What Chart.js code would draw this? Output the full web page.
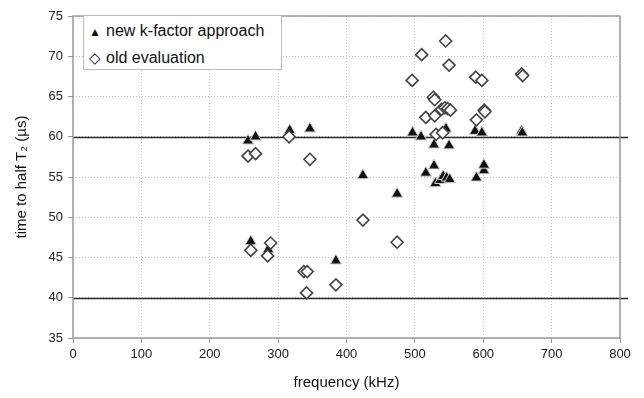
<!DOCTYPE html>
<html>
<head>
<meta charset="utf-8">
<script src="https://cdn.jsdelivr.net/npm/chart.js@4/dist/chart.umd.min.js"></script>
<style>
  html, body { margin: 0; padding: 0; background: #fff; }
  #wrap { position: relative; width: 644px; height: 398px; }
  #legend {
    position: absolute; left: 83px; top: 15px; width: 199px; height: 55px;
    border: 1px solid #bbb; background: #fff; box-sizing: border-box;
    font-family: 'Liberation Sans', Arial, sans-serif; font-size: 16px; color: #111;
  }
  .legend__row { position: absolute; left: 0; height: 20px; line-height: 20px; white-space: nowrap; }
  .legend__mark { display: inline-block; width: 22px; text-align: center; }
  .legend__mark--tri { font-size: 12px; }
  .legend__mark--dia { font-size: 15px; }
</style>
</head>
<body>
<div id="wrap">
  <canvas id="chart" width="644" height="398"></canvas>
  <div id="legend">
    <div class="legend__row" style="top:5px"><span class="legend__mark legend__mark--tri">▲</span>new k-factor approach</div>
    <div class="legend__row" style="top:32px"><span class="legend__mark legend__mark--dia">◇</span>old evaluation</div>
  </div>
</div>
<script>
'use strict';

// new k-factor approach (filled triangles)
var NEW_FREQ = [256, 267, 317, 346.5, 424, 474, 260, 285.5, 384.5, 496.6, 509, 516, 528, 528, 530,
  537, 541.5, 545.5, 546.5, 550, 551, 588, 590, 598, 601, 601, 656, 657];
var NEW_TIME = [59.5, 60.0, 60.8, 61.0, 55.2, 52.9, 47.0, 46.0, 44.6, 60.5, 60.0, 55.5, 59.0, 56.4, 54.2,
  54.6, 55.1, 61.0, 54.9, 58.9, 54.7, 60.7, 54.9, 60.5, 55.8, 56.5, 60.7, 60.5];

// old evaluation (open diamonds)
var OLD_FREQ = [256, 267, 316, 346.5, 424, 474, 260, 289, 284.6, 337.7, 342.5, 341.6, 384.5,
  496, 510, 545, 550, 589, 598, 656, 657.7, 527, 529, 539, 544, 548, 552, 516, 529, 590,
  601.5, 602.5, 531, 540.6];
var OLD_TIME = [57.6, 57.9, 60.0, 57.2, 49.65, 46.9, 45.9, 46.8, 45.2, 43.25, 43.25, 40.6, 41.6,
  67.0, 70.2, 71.9, 68.9, 67.4, 67.0, 67.8, 67.6, 64.9, 64.6, 63.4, 63.6, 63.5, 63.3, 62.4, 62.6, 62.1,
  63.3, 63.1, 60.3, 60.5];

var X_RANGE = [0, 800, 100];
var Y_RANGE = [35, 75, 5];
var REF_LINES = [40, 60];

function toPoints(xs, ys) {
  return xs.map(function (x, i) { return { x: x, y: ys[i] }; });
}

var FONT = "'Liberation Sans', Arial, sans-serif";

// solid reference lines at 40 and 60, plus grey plot frame
var framePlugin = {
  id: 'frame',
  beforeDatasetsDraw: function (chart) {
    var ctx = chart.ctx, a = chart.chartArea, y = chart.scales.y;
    ctx.save();
    ctx.strokeStyle = '#2a2a2a';
    ctx.lineWidth = 1.6;
    REF_LINES.forEach(function (v) {
      var py = Math.round(y.getPixelForValue(v)) + 0.5;
      ctx.beginPath();
      ctx.moveTo(a.left, py);
      ctx.lineTo(a.right + 8, py);
      ctx.stroke();
    });
    ctx.restore();
  },
  afterDraw: function (chart) {
    var ctx = chart.ctx, a = chart.chartArea;
    ctx.save();
    ctx.strokeStyle = '#9a9a9a';
    ctx.lineWidth = 1.5;
    ctx.strokeRect(a.left, a.top, a.right - a.left, a.bottom - a.top);
    ctx.restore();
  }
};

new Chart(document.getElementById('chart'), {
  type: 'scatter',
  data: {
    datasets: [
      {
        label: 'new k-factor approach',
        data: toPoints(NEW_FREQ, NEW_TIME),
        pointStyle: 'triangle',
        pointRadius: 6.5,
        backgroundColor: '#111',
        borderColor: '#cfcfcf',
        borderWidth: 1,
        order: 1
      },
      {
        label: 'old evaluation',
        data: toPoints(OLD_FREQ, OLD_TIME),
        pointStyle: 'rectRot',
        pointRadius: 6,
        backgroundColor: '#fff',
        borderColor: '#444',
        borderWidth: 1.6,
        order: 0
      }
    ]
  },
  options: {
    responsive: false,
    animation: false,
    layout: { padding: { top: 16, right: 24, left: 0, bottom: 0 } },
    plugins: { legend: { display: false }, tooltip: { enabled: false } },
    scales: {
      x: {
        type: 'linear',
        min: X_RANGE[0], max: X_RANGE[1],
        afterFit: function (s) { s.height = 60; },
        ticks: { stepSize: X_RANGE[2], color: '#222', padding: 4, font: { family: FONT, size: 13 } },
        grid: { color: '#c0c0c0', tickLength: 5, tickColor: '#999' },
        border: { display: false, dash: [1, 2] },
        title: { display: true, text: 'frequency (kHz)', color: '#111', padding: { top: 4, bottom: 6 }, font: { family: FONT, size: 15 } }
      },
      y: {
        type: 'linear',
        min: Y_RANGE[0], max: Y_RANGE[1],
        afterFit: function (s) { s.width = 73; },
        ticks: { stepSize: Y_RANGE[2], color: '#222', padding: 5, font: { family: FONT, size: 13 } },
        grid: { color: '#c0c0c0', tickLength: 5, tickColor: '#999' },
        border: { display: false, dash: [1, 2] },
        title: { display: true, text: 'time to half T₂ (µs)', color: '#111', padding: { top: 13, bottom: 0 }, font: { family: FONT, size: 15 } }
      }
    }
  },
  plugins: [framePlugin]
});
</script>
</body>
</html>
